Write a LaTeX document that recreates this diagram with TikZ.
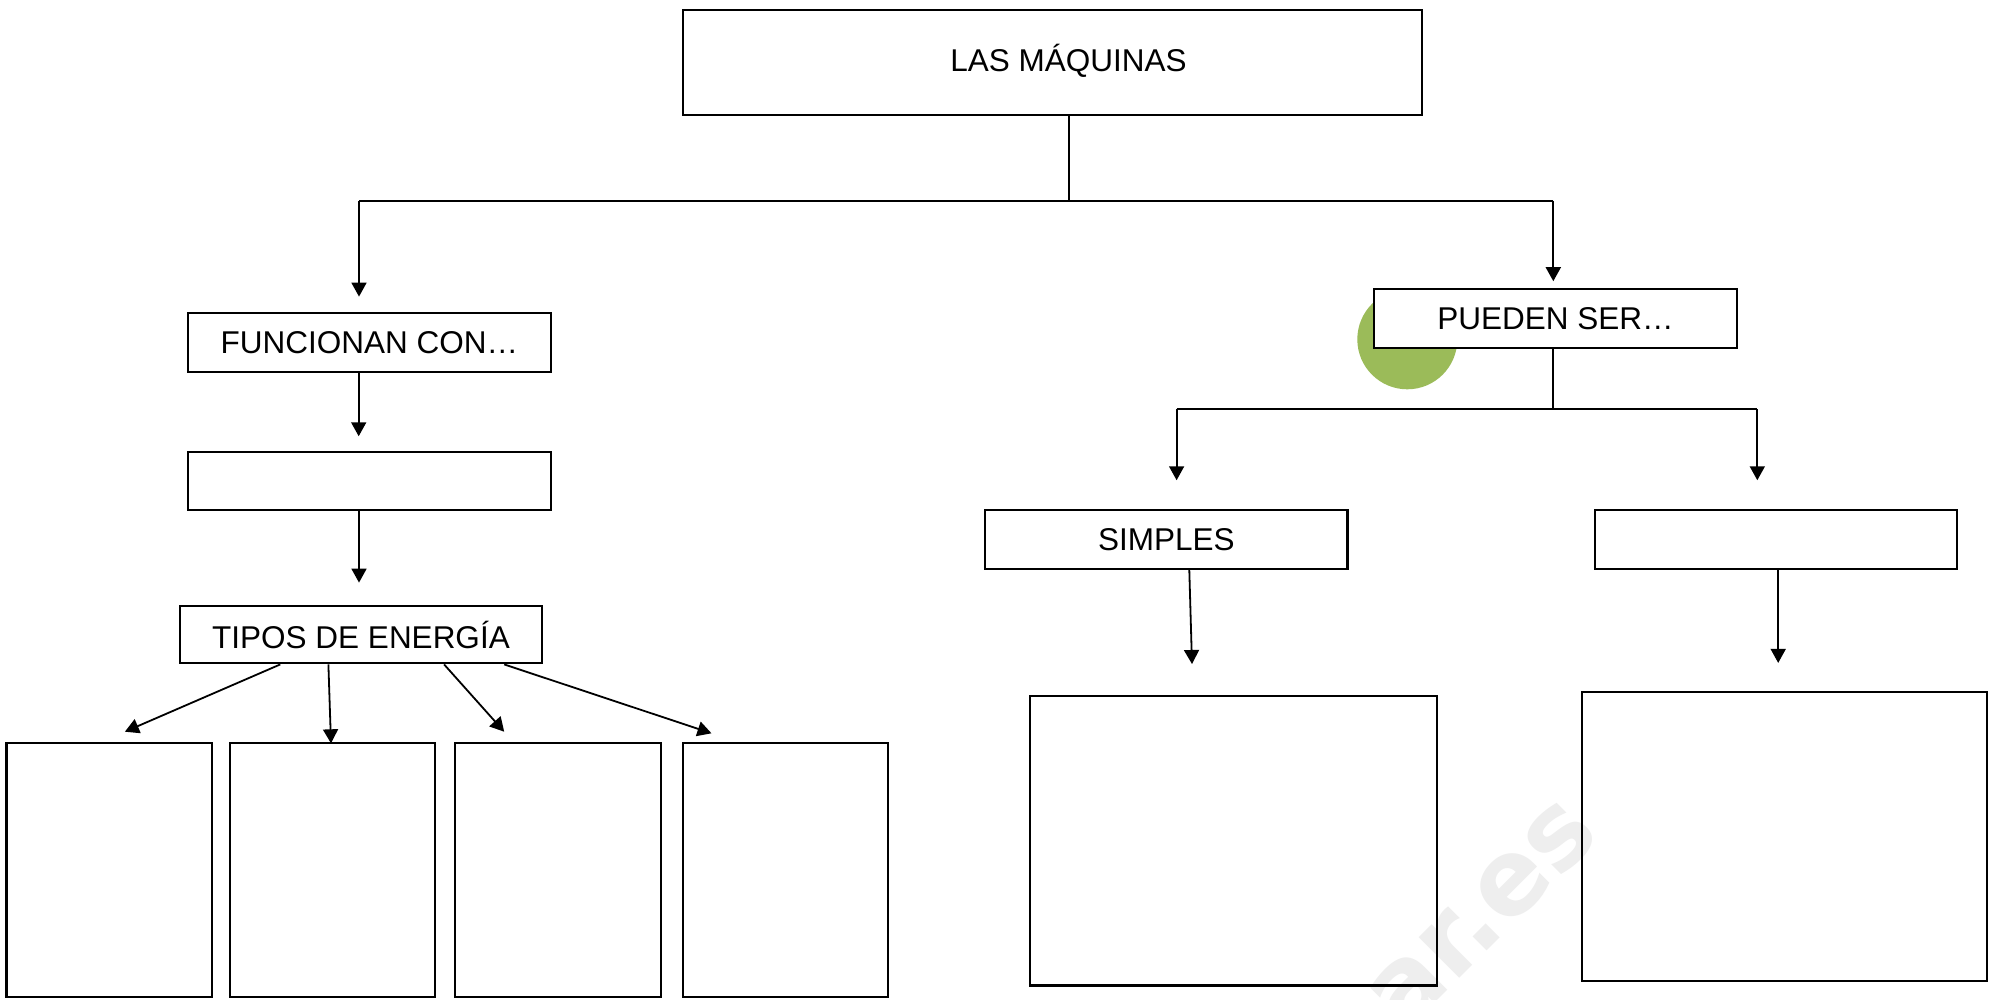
\documentclass[tikz,border=0pt]{standalone}
\usepackage{fontspec}
\setmainfont{Liberation Sans}
\newfontfamily\wmfont{DejaVu Sans}
\usetikzlibrary{arrows.meta}
\definecolor{leafgreen}{HTML}{9BBB59}
\definecolor{wmgray}{gray}{0.935}
\begin{document}
\begin{tikzpicture}[x=1pt,y=-1pt,
  box/.style={draw, line width=2.2pt, inner sep=0pt, font=\fontsize{31.5}{38}\selectfont},
  lbl/.style={inner sep=0pt, font=\fontsize{31.5}{38}\selectfont},
  conn/.style={line width=1.8pt},
  arr/.style={conn, -{Triangle[width=15pt,length=14pt]}}]
\useasboundingbox (0,0) rectangle (2000,999);
\fill[white] (0,0) rectangle (2000,999);
% watermark
\node[text=wmgray, font=\wmfont\bfseries\fontsize{105}{105}\selectfont, rotate=45, anchor=base west, inner sep=0pt] (wm) at (1403.3,1034.9) {ar.es};
% green dot
\fill[leafgreen] (1407.3,339.3) circle (50pt);
% boxes
\node[box, minimum width=738.7pt, minimum height=105pt] (top) at (1052.4,62.5) {};
\node[lbl] (toplbl) at (1068.4,60.5) {LAS MÁQUINAS};
\node[box, minimum width=363.3pt, minimum height=58.4pt] (fun) at (369.4,342.5) {FUNCIONAN CON…};
\node[box, minimum width=363.3pt, minimum height=58.3pt] (emp1) at (369.4,480.9) {};
\node[box, minimum width=362pt, minimum height=57.6pt] (tipos) at (361,634.5) {TIPOS DE ENERGÍA};
\node[box, minimum width=205.6pt, minimum height=253.7pt] (b1) at (109.2,870.2) {};
\node[box, minimum width=205.4pt, minimum height=253.7pt] (b2) at (332.3,870.2) {};
\node[box, minimum width=206pt, minimum height=253.7pt] (b3) at (558,870.2) {};
\node[box, minimum width=205pt, minimum height=253.7pt] (b4) at (785.5,870.2) {};
\node[box, fill=white, minimum width=363pt, minimum height=59pt] (pue) at (1555.5,318.8) {PUEDEN SER…};
\node[box, minimum width=362.1pt, minimum height=58.7pt] (simples) at (1166.4,539.7) {SIMPLES};
\node[box, minimum width=362.1pt, minimum height=58.7pt] (emp2) at (1775.7,539.7) {};
\node[box, minimum width=407pt, minimum height=289.5pt] (mid) at (1233.5,840.8) {};
\node[box, minimum width=405.3pt, minimum height=289pt] (rbig) at (1784.4,836.5) {};
% junctions and free ends
\coordinate (j0) at (1069,200.7);
\coordinate (jL) at (359,200.7);
\coordinate (jR) at (1553.3,200.7);
\coordinate (k0) at (1553.3,409);
\coordinate (kL) at (1176.6,409);
\coordinate (kR) at (1757.3,409);
\coordinate (t1) at (124.9,731.7);
\coordinate (t2) at (331,743.3);
\coordinate (t3) at (504.2,731.7);
\coordinate (t4) at (711.5,733.3);
\coordinate (s1) at (1192,664);
% connectors
\draw[conn] (top.south -| j0) -- (j0);
\draw[conn] (jL) -- (jR);
\draw[arr, shorten >=15.6pt] (jL) -- (jL |- fun.north);
\draw[arr, shorten >=7pt] (jR) -- (jR |- pue.north);
\draw[arr, shorten >=14.4pt] (358.7,0 |- fun.south) -- (358.7,0 |- emp1.north);
\draw[arr, shorten >=22pt] (359,0 |- emp1.south) -- (359,0 |- tipos.north);
\draw[arr] (280.3,0 |- tipos.south) -- (t1);
\draw[arr] (328.4,0 |- tipos.south) -- (t2);
\draw[arr] (444.1,0 |- tipos.south) -- (t3);
\draw[arr] (504.2,0 |- tipos.south) -- (t4);
\draw[conn] (pue.south -| k0) -- (k0);
\draw[conn] (kL) -- (kR);
\draw[arr, shorten >=29pt] (kL) -- (kL |- simples.north);
\draw[arr, shorten >=29pt] (kR) -- (kR |- emp2.north);
\draw[arr] (1189.3,0 |- simples.south) -- (s1);
\draw[arr, shorten >=28pt] (1778.2,0 |- emp2.south) -- (1778.2,0 |- rbig.north);
\end{tikzpicture}
\end{document}
